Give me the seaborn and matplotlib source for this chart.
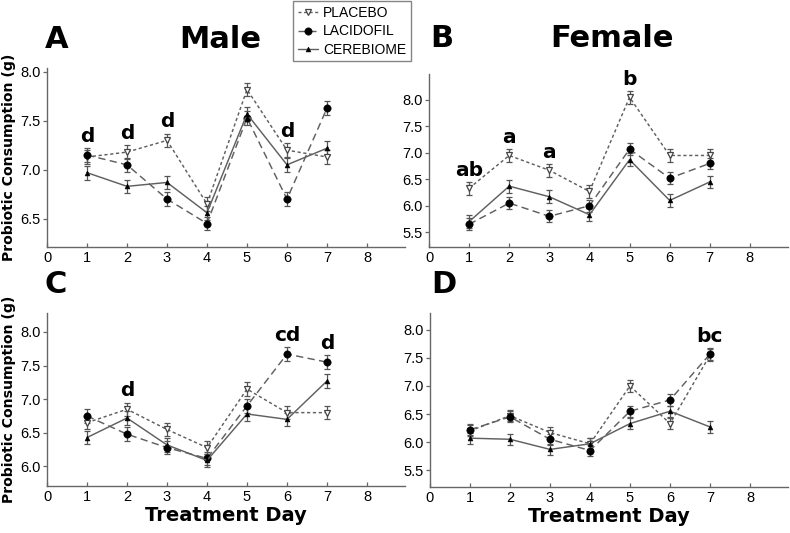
import matplotlib
matplotlib.use("Agg")
import numpy as np
import pandas as pd
import seaborn as sns
import matplotlib.pyplot as plt
from matplotlib.lines import Line2D

days = [1, 2, 3, 4, 5, 6, 7]
groups = ["PLACEBO", "LACIDOFIL", "CEREBIOME"]

# Panel A - Male (top)
a_placebo = [7.13, 7.18, 7.30, 6.65, 7.82, 7.20, 7.13]
a_lacidofil = [7.15, 7.05, 6.70, 6.45, 7.53, 6.70, 7.63]
a_cerebiome = [6.97, 6.83, 6.87, 6.56, 7.57, 7.05, 7.22]
a_sem = [0.07, 0.07, 0.07]

# Panel B - Female (top)
b_placebo = [6.33, 6.95, 6.67, 6.27, 8.05, 6.95, 6.95]
b_lacidofil = [5.65, 6.05, 5.80, 6.00, 7.07, 6.52, 6.80]
b_cerebiome = [5.70, 6.37, 6.17, 5.83, 6.87, 6.10, 6.45]
b_sem = [0.12, 0.11, 0.12]

# Panel C - Male (bottom)
c_placebo = [6.65, 6.85, 6.55, 6.28, 7.15, 6.80, 6.80]
c_lacidofil = [6.75, 6.48, 6.28, 6.12, 6.90, 7.67, 7.55]
c_cerebiome = [6.43, 6.72, 6.32, 6.09, 6.78, 6.70, 7.27]
c_sem = [0.10, 0.10, 0.10]

# Panel D - Female (bottom)
d_placebo = [6.20, 6.47, 6.17, 5.97, 7.00, 6.33, 7.55]
d_lacidofil = [6.22, 6.45, 6.05, 5.85, 6.55, 6.75, 7.57]
d_cerebiome = [6.07, 6.05, 5.87, 5.97, 6.33, 6.55, 6.27]
d_sem = [0.10, 0.10, 0.10]

# Significance letters (day, text)
a_letters = [(1, "d"), (2, "d"), (3, "d"), (6, "d")]
b_letters = [(1, "ab"), (2, "a"), (3, "a"), (5, "b")]
c_letters = [(2, "d"), (6, "cd"), (7, "d")]
d_letters = [(7, "bc")]

a_yticks = [6.5, 7.0, 7.5, 8.0]
b_yticks = [5.5, 6.0, 6.5, 7.0, 7.5, 8.0]
c_yticks = [6.0, 6.5, 7.0, 7.5, 8.0]
d_yticks = [5.5, 6.0, 6.5, 7.0, 7.5, 8.0]
xticks = [0, 1, 2, 3, 4, 5, 6, 7, 8]

sns.set_style("ticks")
plt.rcParams["font.family"] = ["Liberation Sans", "DejaVu Sans"]
plt.rcParams["text.color"] = "black"
plt.rcParams["axes.labelcolor"] = "black"
plt.rcParams["xtick.labelcolor"] = "black"
plt.rcParams["ytick.labelcolor"] = "black"

W, H = 790, 533
fig = plt.figure(figsize=(W / 100, H / 100), dpi=100)

def px_axes(l, t, r, b):
    return fig.add_axes([l / W, 1 - b / H, (r - l) / W, (b - t) / H])

LINE = "#606060"
styles = {
    "PLACEBO": dict(ls=(0, (2.2, 1.8)), marker="v", ms=5, mfc="white", mec="#444444",
                    mew=0.9, color=LINE),
    "LACIDOFIL": dict(ls=(0, (5, 3)), marker="o", ms=5.3, mfc="black", mec="black",
                      mew=0.4, color=LINE),
    "CEREBIOME": dict(ls="-", marker="^", ms=3.5, mfc="black", mec="black",
                      mew=0.4, color=LINE),
}

panels = [
    (px_axes(47, 68, 405, 247), [a_placebo, a_lacidofil, a_cerebiome], a_sem,
     (6.21, 8.04), a_yticks, a_letters),
    (px_axes(429, 74, 788, 247), [b_placebo, b_lacidofil, b_cerebiome], b_sem,
     (5.22, 8.49), b_yticks, b_letters),
    (px_axes(47, 313, 405, 486), [c_placebo, c_lacidofil, c_cerebiome], c_sem,
     (5.71, 8.28), c_yticks, c_letters),
    (px_axes(430, 313, 788, 487), [d_placebo, d_lacidofil, d_cerebiome], d_sem,
     (5.20, 8.30), d_yticks, d_letters),
]

for i, (ax, series, sems, ylim, yticks, letters) in enumerate(panels):
    for g, vals, s in zip(groups, series, sems):
        st = styles[g]
        ax.errorbar(days, vals, yerr=s, fmt="none", ecolor="#555555",
                    elinewidth=0.9, capsize=2, capthick=0.9, zorder=2)
        df = pd.DataFrame({"day": days, "value": vals})
        sns.lineplot(data=df, x="day", y="value", ax=ax, errorbar=None,
                     color=st["color"], linestyle=st["ls"], linewidth=1.05,
                     marker=st["marker"], markersize=st["ms"],
                     markerfacecolor=st["mfc"], markeredgecolor=st["mec"],
                     markeredgewidth=st["mew"], zorder=3)
    for day, txt in letters:
        idx = days.index(day)
        top = max(v[idx] + s for v, s in zip(series, sems))
        ax.annotate(txt, (day, top), xytext=(0, 1.5), textcoords="offset points",
                    ha="center", va="bottom", fontsize=14.5, fontweight="bold",
                    family="DejaVu Sans", color="black")
    ax.set_xlim(0, 8.95)
    ax.set_ylim(*ylim)
    ax.set_xticks(xticks)
    ax.set_yticks(yticks)
    ax.set_yticklabels([f"{t:.1f}" for t in yticks])
    ax.tick_params(axis="x", direction="in", length=3, width=0.9, color="#666666",
                   labelsize=10.5, pad=3, labelcolor="black")
    ax.tick_params(axis="y", direction="out", length=3, width=0.9, color="#666666",
                   labelsize=10.5, pad=1.5, labelcolor="black")
    for sp in ["top", "right"]:
        ax.spines[sp].set_visible(False)
    for sp in ["left", "bottom"]:
        ax.spines[sp].set_color("#666666")
        ax.spines[sp].set_linewidth(1.0)
    ax.set_xlabel("")
    ax.set_ylabel("")
    ax.set_facecolor("white")

for ax in [panels[0][0], panels[2][0]]:
    ax.set_ylabel("Probiotic Consumption (g)", fontsize=10.1, fontweight="bold",
                  family="DejaVu Sans", labelpad=3)
for ax in [panels[2][0], panels[3][0]]:
    ax.set_xlabel("Treatment Day", fontsize=14, fontweight="bold",
                  family="DejaVu Sans", labelpad=1)

def ftext(x, y, s, size, ha="left"):
    fig.text(x / W, 1 - y / H, s, fontsize=size, fontweight="bold",
             family="DejaVu Sans", ha=ha, va="baseline", color="black")

ftext(45, 48, "A", 22)
ftext(220, 48, "Male", 22, ha="center")
ftext(430, 47, "B", 22)
ftext(612, 47, "Female", 22, ha="center")
ftext(45, 293, "C", 22)
ftext(431, 293, "D", 22)

handles = []
for g in groups:
    st = styles[g]
    handles.append(Line2D([0], [0], color=st["color"], ls=st["ls"], lw=1.0,
                          marker=st["marker"], ms=st["ms"], mfc=st["mfc"],
                          mec=st["mec"], mew=st["mew"]))
leg = fig.legend(handles, groups, loc="upper left",
                 bbox_to_anchor=(292 / W, 1.0), fontsize=10,
                 frameon=True, fancybox=False, handlelength=1.4,
                 handletextpad=0.4, labelspacing=0.3, borderpad=0.35,
                 borderaxespad=0.1)
leg.get_frame().set_edgecolor("#666666")
leg.get_frame().set_linewidth(1.0)

fig.savefig("out.png", dpi=100, facecolor="white")
